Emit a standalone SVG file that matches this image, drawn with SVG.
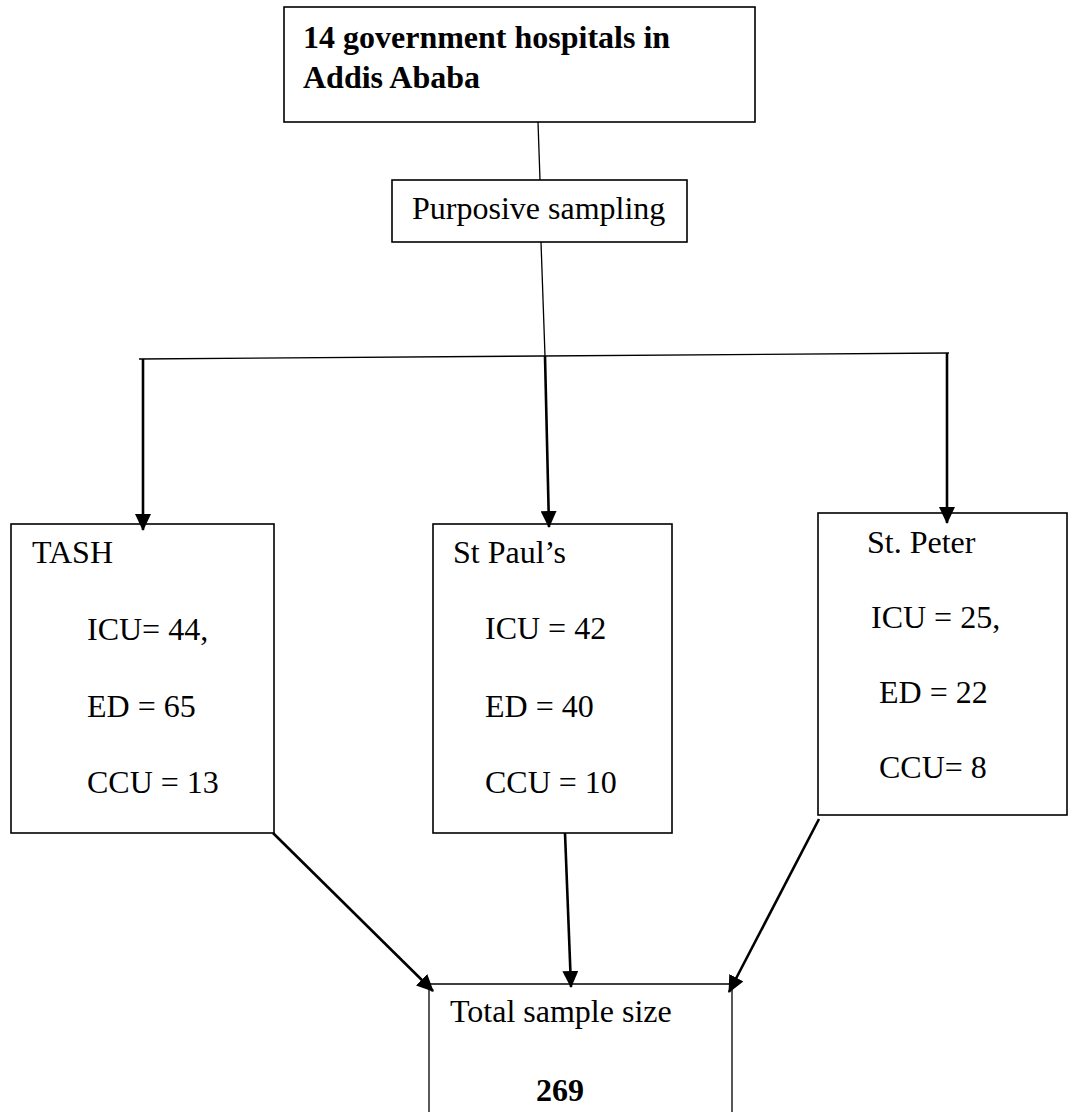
<svg xmlns="http://www.w3.org/2000/svg" width="1069" height="1112" viewBox="0 0 1069 1112">
<style>
.box{fill:none;stroke:#000;stroke-width:1.6}
.t{font-family:"Liberation Serif","Times New Roman",serif;font-size:32px;fill:#000}
.b{font-weight:bold}
.thin{stroke:#000;stroke-width:1.3;fill:none}
.arr{stroke:#000;stroke-width:2.6;fill:none;marker-end:url(#ah)}
</style>
<defs>
<marker id="ah" viewBox="0 0 17 16" refX="16" refY="8" markerWidth="17" markerHeight="16" markerUnits="userSpaceOnUse" orient="auto">
<path d="M0,0 L17,8 L0,16 z" fill="#000"/>
</marker>
</defs>
<rect width="1069" height="1112" fill="#fff"/>
<g id="node-top">
<rect class="box" x="284" y="7" width="471" height="115"/>
<text class="t b" x="303" y="48">14 government hospitals in</text>
<text class="t b" x="303" y="88">Addis Ababa</text>
</g>
<g id="node-purposive">
<rect class="box" x="392" y="180" width="295" height="62"/>
<text class="t" x="412" y="219">Purposive sampling</text>
</g>
<g id="node-tash">
<rect class="box" x="11" y="524" width="263" height="309"/>
<text class="t" x="32" y="563">TASH</text>
<text class="t" x="87" y="640">ICU= 44,</text>
<text class="t" x="87" y="717">ED = 65</text>
<text class="t" x="87" y="793">CCU = 13</text>
</g>
<g id="node-stpaul">
<rect class="box" x="433" y="524" width="239" height="309"/>
<text class="t" x="453" y="563">St Paul’s</text>
<text class="t" x="485" y="639">ICU = 42</text>
<text class="t" x="485" y="717">ED = 40</text>
<text class="t" x="485" y="793">CCU = 10</text>
</g>
<g id="node-stpeter">
<rect class="box" x="818" y="513" width="249" height="302"/>
<text class="t" x="867" y="553">St. Peter</text>
<text class="t" x="871" y="628">ICU = 25,</text>
<text class="t" x="879" y="703">ED = 22</text>
<text class="t" x="879" y="778">CCU= 8</text>
</g>
<g id="node-total">
<path class="thin" d="M429,1112 V984 H732 V1112"/>
<text class="t" x="450" y="1022">Total sample size</text>
<text class="t b" x="536" y="1101">269</text>
</g>
<g id="connectors">
<line class="thin" x1="538" y1="122" x2="540" y2="180"/>
<line class="thin" x1="541" y1="242" x2="545" y2="356"/>
<line class="thin" x1="139" y1="359" x2="949" y2="353"/>
<line class="arr" x1="143" y1="359" x2="143" y2="530"/>
<line class="arr" x1="545" y1="356" x2="549" y2="527"/>
<line class="arr" x1="947" y1="353" x2="947" y2="523"/>
<line class="arr" x1="273" y1="833" x2="433" y2="991"/>
<line class="arr" x1="565" y1="833" x2="571" y2="987"/>
<line class="arr" x1="819" y1="819" x2="729" y2="992"/>
</g>
</svg>
